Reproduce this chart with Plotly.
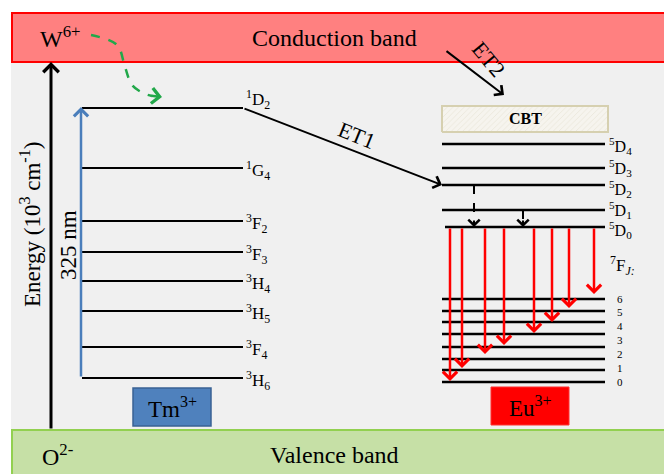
import plotly.graph_objects as go

# ---------------- data (diagram energy units, larger = higher) ----------------
tm_terms = ["<sup>1</sup>D<sub>2</sub>", "<sup>1</sup>G<sub>4</sub>", "<sup>3</sup>F<sub>2</sub>",
            "<sup>3</sup>F<sub>3</sub>", "<sup>3</sup>H<sub>4</sub>", "<sup>3</sup>H<sub>5</sub>",
            "<sup>3</sup>F<sub>4</sub>", "<sup>3</sup>H<sub>6</sub>"]
tm_energy = [366, 306, 253, 222, 193, 163, 127, 96]

eu_d_terms = ["<sup>5</sup>D<sub>4</sub>", "<sup>5</sup>D<sub>3</sub>", "<sup>5</sup>D<sub>2</sub>",
              "<sup>5</sup>D<sub>1</sub>", "<sup>5</sup>D<sub>0</sub>"]
eu_d_energy = [330, 306, 289, 264, 247]

eu_f_energy = [175, 163, 152, 140, 127, 115, 104, 92]
eu_f_labels = ["6", "5", "4", "3", "2", "1", "0"]
eu_f_label_energy = [175, 162, 148, 134, 120, 106, 92]

emission_pos = [450, 462, 485, 504, 534, 552, 569, 594]
emission_end = [93, 106, 120, 129, 141, 152, 166, 180]

green_path_x = [91, 117, 125, 132, 143, 152]
green_path_y = [439, 429, 407, 389, 381, 378]

FONT = "Liberation Serif"

fig = go.Figure()

shapes = []
shapes.append(dict(type="rect", x0=11, x1=664, y0=44, y1=412, line=dict(width=0),
                   fillcolor="#f0f0f0", layer="below"))
shapes.append(dict(type="rect", x0=12, x1=665, y0=412, y1=461, line=dict(color="#ff0000", width=2),
                   fillcolor="#ff8080", layer="below"))
shapes.append(dict(type="rect", x0=12, x1=665, y0=-2, y1=44, line=dict(color="#92d050", width=2),
                   fillcolor="#c6e0a6", layer="below"))
shapes.append(dict(type="rect", x0=133, x1=211, y0=48, y1=86, line=dict(color="#3a6294", width=1.5),
                   fillcolor="#4f81bd"))
shapes.append(dict(type="rect", x0=491, x1=569, y0=49, y1=87, line=dict(color="#ff3030", width=1),
                   fillcolor="#ff0000"))

# CBT box (hatched)
fig.add_trace(go.Scatter(x=[442, 608, 608, 442, 442], y=[342, 342, 368, 368, 342], mode="lines",
                         fill="toself", fillcolor="#f4f1e8",
                         fillpattern=dict(shape="/", fgcolor="#dcd6c4", bgcolor="#f6f4ee", size=4, solidity=0.2),
                         line=dict(color="#d6d0b0", width=2), hoverinfo="skip", showlegend=False))

# Tm levels
xs, ys = [], []
for e in tm_energy:
    xs += [82, 243, None]
    ys += [e, e, None]
fig.add_trace(go.Scatter(x=xs, y=ys, mode="lines", line=dict(color="black", width=2.2),
                         hoverinfo="skip", showlegend=False))

# Eu 5D levels
xs, ys = [], []
for i, e in enumerate(eu_d_energy):
    x0 = 445 if i == len(eu_d_energy) - 1 else 442
    xs += [x0, 605, None]
    ys += [e, e, None]
fig.add_trace(go.Scatter(x=xs, y=ys, mode="lines", line=dict(color="black", width=2.6),
                         hoverinfo="skip", showlegend=False))

# Eu 7F levels
xs, ys = [], []
for e in eu_f_energy:
    xs += [442, 605, None]
    ys += [e, e, None]
fig.add_trace(go.Scatter(x=xs, y=ys, mode="lines", line=dict(color="black", width=2.6),
                         hoverinfo="skip", showlegend=False))

# dashed non-radiative relaxations
for x, top in [(474, eu_d_energy[2]), (523, eu_d_energy[3])]:
    fig.add_trace(go.Scatter(x=[x, x], y=[top, eu_d_energy[4] + 6], mode="lines",
                             line=dict(color="black", width=2, dash="dash"),
                             hoverinfo="skip", showlegend=False))

# green curved dashed arrow
fig.add_trace(go.Scatter(x=green_path_x, y=green_path_y, mode="lines",
                         line=dict(color="#22a84a", width=2.5, dash="dash", shape="spline"),
                         hoverinfo="skip", showlegend=False))

annotations = []

def arrow(x0, y0, x1, y1, color, width, head=4, size=1.0):
    annotations.append(dict(x=x1, y=y1, ax=x0, ay=y0, xref="x", yref="y", axref="x", ayref="y",
                            text="", showarrow=True, arrowhead=head, arrowsize=size,
                            arrowwidth=width, arrowcolor=color))

arrow(51, 44, 51, 412, "black", 3, head=4, size=1.0)
arrow(81, tm_energy[-1], 81, tm_energy[0] + 1, "#4a7ebb", 2.5, head=4, size=1.1)
arrow(243, tm_energy[0], 442, eu_d_energy[2], "black", 2, head=4, size=1.2)
arrow(445, 424, 504, 379, "black", 2, head=4, size=1.2)
for x in [474, 523]:
    arrow(x, eu_d_energy[4] + 8, x, eu_d_energy[4], "black", 2, head=4, size=1.1)
arrow(150, 378.5, 162, 377, "#22a84a", 2.5, head=4, size=1.2)
for x, e in zip(emission_pos, emission_end):
    arrow(x, eu_d_energy[4], x, e, "#ff0000", 2.5, head=4, size=1.1)

def text(x, y, t, size, xanchor="center", yanchor="middle", angle=0, color="black", pad=1):
    annotations.append(dict(x=x, y=y, xref="x", yref="y", text=t, showarrow=False,
                            xanchor=xanchor, yanchor=yanchor, textangle=angle, borderpad=pad,
                            font=dict(family=FONT, size=size, color=color)))

# level labels
for i, (t, e) in enumerate(zip(tm_terms, tm_energy)):
    yy = e + 9 if i == 0 else e - 2
    text(244, yy, t, 17, xanchor="left")
eu_shift = [-2, 0, -4, 0, -3]
for t, e, s in zip(eu_d_terms, eu_d_energy, eu_shift):
    text(608, e + s, t, 16, xanchor="left", pad=0)
text(608, 209, "<sup>7</sup>F<sub><i>J:</i></sub>", 17, xanchor="left")
for t, e in zip(eu_f_labels, eu_f_label_energy):
    text(620, e, t, 11)

text(38, 437, "W<sup>6+</sup>", 24, xanchor="left")
text(334, 436, "Conduction band", 24)
text(40, 19, "O<sup>2-</sup>", 24, xanchor="left")
text(334, 19, "Valence band", 24)
text(30, 249, "Energy (10<sup>3</sup> cm<sup>-1</sup>)", 23, angle=-90)
text(68, 229, "325 nm", 23, angle=-90)
text(357, 339, "ET1", 22, angle=22)
text(489, 415, "ET2", 22, angle=50)
text(525, 356, "<b>CBT</b>", 16)
text(172, 67, "Tm<sup>3+</sup>", 23)
text(530, 68, "Eu<sup>3+</sup>", 23)

fig.update_layout(width=664, height=474, margin=dict(l=0, r=0, t=0, b=0),
                  paper_bgcolor="white", plot_bgcolor="white",
                  xaxis=dict(range=[0, 664], visible=False, fixedrange=True),
                  yaxis=dict(range=[0, 474], visible=False, fixedrange=True),
                  shapes=shapes, annotations=annotations, showlegend=False)

fig.write_html("out.html", config={"displayModeBar": False},
               post_script="document.body.style.margin='0';document.body.style.overflow='hidden';")
